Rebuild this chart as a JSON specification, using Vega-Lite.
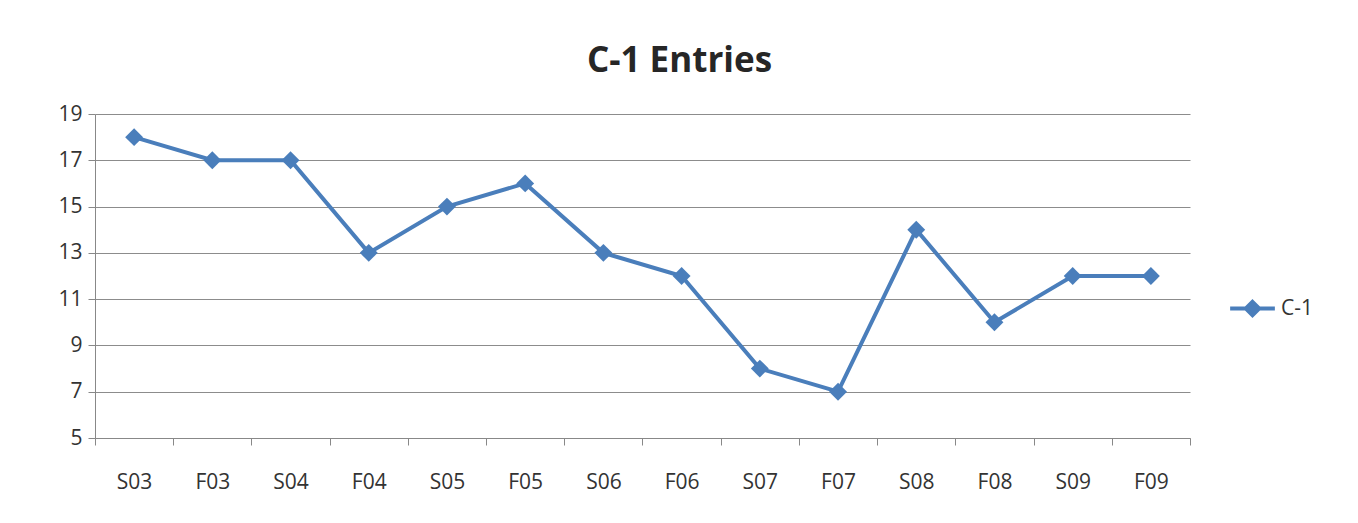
{
  "$schema": "https://vega.github.io/schema/vega-lite/v6.json",
  "width": 1095,
  "height": 324,
  "autosize": {"type": "none"},
  "padding": {"left": 95, "top": 114, "right": 168, "bottom": 85},
  "background": "white",
  "title": {
    "text": "C-1 Entries",
    "font": "Open Sans",
    "fontSize": 35,
    "fontWeight": "bold",
    "color": "#262626",
    "anchor": "middle",
    "baseline": "alphabetic",
    "offset": -4,
    "dx": 37
  },
  "config": {
    "view": {"stroke": null},
    "font": "Open Sans"
  },
  "data": {
    "values": [
      {"term": "S03", "entries": 18, "series": "C-1"},
      {"term": "F03", "entries": 17, "series": "C-1"},
      {"term": "S04", "entries": 17, "series": "C-1"},
      {"term": "F04", "entries": 13, "series": "C-1"},
      {"term": "S05", "entries": 15, "series": "C-1"},
      {"term": "F05", "entries": 16, "series": "C-1"},
      {"term": "S06", "entries": 13, "series": "C-1"},
      {"term": "F06", "entries": 12, "series": "C-1"},
      {"term": "S07", "entries": 8, "series": "C-1"},
      {"term": "F07", "entries": 7, "series": "C-1"},
      {"term": "S08", "entries": 14, "series": "C-1"},
      {"term": "F08", "entries": 10, "series": "C-1"},
      {"term": "S09", "entries": 12, "series": "C-1"},
      {"term": "F09", "entries": 12, "series": "C-1"}
    ]
  },
  "mark": {
    "type": "line",
    "strokeWidth": 4,
    "point": {"shape": "diamond", "size": 320, "filled": true, "opacity": 1}
  },
  "encoding": {
    "x": {
      "field": "term",
      "type": "ordinal",
      "sort": null,
      "scale": {"type": "band", "paddingInner": 0, "paddingOuter": 0},
      "axis": {
        "title": null,
        "labelAngle": 0,
        "tickBand": "extent",
        "labelFontSize": 21,
        "labelColor": "#333333",
        "labelPadding": 26,
        "tickSize": 7,
        "tickColor": "#888888",
        "domainColor": "#888888",
        "grid": false
      }
    },
    "y": {
      "field": "entries",
      "type": "quantitative",
      "scale": {"domain": [5, 19], "nice": false, "zero": false},
      "axis": {
        "title": null,
        "values": [5, 7, 9, 11, 13, 15, 17, 19],
        "labelFontSize": 21,
        "labelColor": "#333333",
        "labelPadding": 6,
        "tickSize": 7,
        "tickColor": "#888888",
        "domainColor": "#888888",
        "gridColor": "#8c8c8c",
        "gridWidth": 1
      }
    },
    "color": {
      "field": "series",
      "type": "nominal",
      "scale": {"range": ["#4a7ebb"]},
      "legend": {
        "title": null,
        "orient": "none",
        "legendX": 1133,
        "legendY": 170,
        "symbolType": "M-1,0H1M0,-0.3L0.3,0L0,0.3L-0.3,0Z",
        "symbolSize": 2000,
        "symbolStrokeWidth": 4,
        "symbolFillColor": "#4a7ebb",
        "labelFontSize": 21,
        "labelColor": "#333333",
        "labelOffset": 4
      }
    }
  }
}
